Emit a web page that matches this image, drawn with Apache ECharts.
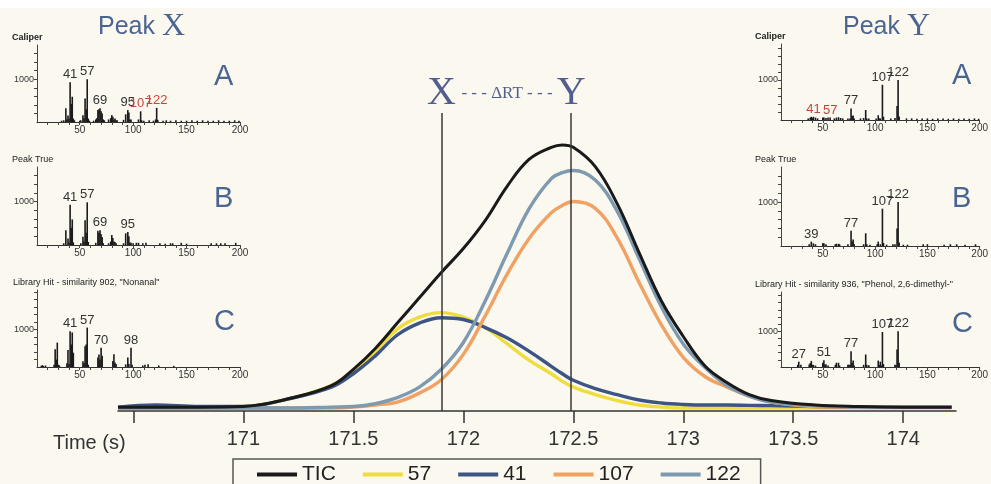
<!DOCTYPE html>
<html>
<head>
<meta charset="utf-8">
<script src="https://cdn.jsdelivr.net/npm/echarts@6/dist/echarts.min.js"></script>
<style>
  html, body { margin: 0; padding: 0; background: #fbf8f0; }
  #chart { width: 991px; height: 484px; }
</style>
</head>
<body>
<div id="chart"></div>
<script>
const NARROW = "'Liberation Sans Narrow', 'Liberation Sans', Arial, sans-serif";
const SANS = "'Liberation Sans', Arial, sans-serif";
const SERIF = "'Liberation Serif', 'DejaVu Serif', serif";
const BLUE = '#4b6592';
const RED = '#c9453a';

// chromatogram (time in s, intensity in % of plot height)
const time = [170.43, 170.6, 170.8, 171.0, 171.2, 171.4, 171.5, 171.6, 171.7, 171.8, 171.9, 172.0, 172.1, 172.2, 172.3, 172.4, 172.45, 172.5, 172.6, 172.7, 172.8, 172.9, 173.0, 173.1, 173.2, 173.3, 173.4, 173.6, 173.8, 174.0, 174.22];
const tic    = [1.3, 1.3, 1.3, 1.5, 4, 8.5, 14, 21, 29.5, 38, 46.5, 54.5, 64, 75.5, 84.5, 88.5, 89.3, 88.5, 82, 69.5, 53, 37, 25, 15, 9.5, 5.5, 3.5, 2, 1.5, 1.3, 1.3];
const ion57  = [1.3, 1.8, 1.3, 1.5, 4, 8.5, 13.5, 20, 27.5, 31.5, 33, 31.5, 28, 22.5, 17, 12.5, 10, 8, 5.5, 3.5, 2, 1.3, 1, 1, 1, 1, 1, 1, 1, 1, 1];
const ion41  = [1.3, 2, 1.5, 1.5, 4, 8, 12.5, 18.5, 25.5, 29.5, 31.3, 30.7, 28, 24.5, 20, 15, 12.5, 10.3, 7.5, 5.5, 3.7, 2.7, 2.2, 2, 2, 1.9, 1.8, 1.5, 1.3, 1.3, 1.3];
const ion107 = [1, 1, 1, 1, 1, 1, 1.3, 2, 3, 6, 10.5, 19, 32, 46, 58, 66.5, 69, 70.3, 68, 58, 43, 29, 18, 11.5, 8, 5, 3, 1.5, 1.3, 1.3, 1.3];
const ion122 = [1, 1, 1, 1, 1, 1.3, 1.5, 2.5, 4.5, 8, 14, 23, 37, 53, 68, 78, 80, 80.7, 77.5, 67, 51, 35, 22.5, 14.5, 8.5, 5, 3, 1.8, 1.3, 1.3, 1.3];
const seriesNames = ['TIC', '57', '41', '107', '122'];
const peakTimes = [171.9, 172.49];
const peakNames = ['X', 'Y'];
const timeTicks = [170.5, 171, 171.5, 172, 172.5, 173, 173.5, 174];
const timeLabels = [171, 171.5, 172, 172.5, 173, 173.5, 174];

// mass spectra [m/z, intensity]
const specXA = [[33,30],[35,40],[37,320],[38,60],[39,150],[40,80],[41,930],[42,420],[43,590],[44,80],[45,40],[50,30],[51,40],[53,160],[54,90],[55,550],[56,300],[57,1000],[58,80],[59,30],[63,30],[65,60],[66,90],[67,280],[68,300],[69,320],[70,250],[71,200],[72,60],[73,40],[77,60],[79,90],[80,160],[81,120],[82,60],[83,80],[84,40],[85,40],[91,50],[93,180],[95,280],[96,220],[97,60],[98,60],[105,60],[107,250],[108,40],[110,30],[115,40],[119,30],[121,60],[122,330],[123,50],[128,30],[131,40],[135,30],[140,40],[145,30],[150,30],[155,40],[160,30],[165,40],[170,30],[175,30],[180,40],[185,30],[190,30],[195,40],[199,30]];
const specXB = [[35,40],[37,340],[39,150],[40,60],[41,930],[42,400],[43,590],[44,60],[51,40],[53,190],[54,80],[55,570],[56,280],[57,985],[58,70],[65,50],[67,330],[68,280],[69,340],[70,250],[71,180],[72,40],[77,40],[79,80],[80,230],[81,160],[82,80],[83,70],[84,40],[91,40],[93,270],[95,300],[96,200],[97,60],[98,50],[100,40],[103,50],[105,50],[109,40],[112,50],[125,40],[130,30],[135,40],[137,40],[145,50],[150,30],[173,40],[178,40],[182,40],[186,40],[196,50]];
const specXC = [[14,30],[15,50],[16,30],[18,40],[26,60],[27,470],[28,200],[29,650],[30,60],[31,40],[38,100],[39,450],[40,80],[41,950],[42,600],[43,920],[44,380],[53,150],[54,100],[55,550],[56,600],[57,1050],[58,60],[67,250],[68,330],[69,200],[70,510],[71,300],[81,160],[82,340],[83,120],[84,80],[93,70],[95,250],[96,80],[98,510],[99,60],[109,40],[111,60],[114,70],[124,40],[138,30]];
const specYA = [[36,40],[38,60],[39,80],[40,50],[41,80],[43,60],[45,40],[50,60],[51,60],[53,50],[55,60],[57,60],[61,40],[63,60],[65,70],[67,50],[69,40],[74,40],[76,40],[77,290],[78,100],[79,110],[80,40],[86,40],[89,50],[91,250],[92,40],[94,40],[101,40],[103,120],[104,40],[105,40],[107,880],[108,80],[115,40],[119,50],[121,350],[122,1000],[123,90],[130,40],[135,40],[140,30],[145,40],[150,40],[155,30],[160,40],[165,40],[170,30],[175,40],[180,30],[185,40],[190,30],[195,40],[199,30]];
const specYB = [[37,40],[39,100],[41,60],[43,40],[50,60],[51,60],[53,40],[62,40],[63,50],[65,50],[66,40],[74,40],[77,350],[78,100],[79,150],[80,40],[89,40],[91,290],[92,40],[95,30],[102,40],[103,100],[105,40],[107,850],[108,70],[111,30],[117,40],[119,40],[121,400],[122,1000],[123,80],[127,30],[131,30],[146,40],[150,40],[166,30],[172,40],[178,40],[186,30],[196,40]];
const specYC = [[26,60],[27,150],[29,60],[37,70],[38,110],[39,170],[40,60],[41,60],[43,40],[50,120],[51,190],[52,60],[53,80],[55,40],[62,60],[63,120],[65,120],[66,40],[74,60],[75,60],[76,60],[77,440],[78,120],[79,180],[80,40],[89,60],[91,350],[92,60],[94,50],[103,180],[104,60],[105,150],[106,40],[107,980],[108,80],[119,60],[120,50],[121,490],[122,1000],[123,120]];

// labelled peaks [m/z, colour]
const labXA = [[41,'#333'],[57,'#333'],[69,'#333'],[95,'#333'],[107,RED],[122,RED]];
const labXB = [[41,'#333'],[57,'#333'],[69,'#333'],[95,'#333']];
const labXC = [[41,'#333'],[57,'#333'],[70,'#333'],[98,'#333']];
const labYA = [[41,RED],[57,RED],[77,'#333'],[107,'#333'],[122,'#333']];
const labYB = [[39,'#333'],[77,'#333'],[107,'#333'],[122,'#333']];
const labYC = [[27,'#333'],[51,'#333'],[77,'#333'],[107,'#333'],[122,'#333']];

const mzLabels = [50, 100, 150, 200];
const mzTicks = [20, 30, 40, 50, 60, 70, 80, 90, 100, 110, 120, 130, 140, 150, 160, 170, 180, 190, 200];
const intTicks = [200, 400, 600, 800, 1000, 1200, 1400, 1600, 1800, 2000];

const insets = [
  { spec: specXA, lab: labXA, title: 'Caliper', bold: true, letter: 'A', left: 37, top: 45, base: 122, ymax: 1800, tx: 7, letterX: 209 },
  { spec: specXB, lab: labXB, title: 'Peak True', bold: false, letter: 'B', left: 37, top: 167, base: 245, ymax: 1800, tx: 7, letterX: 209 },
  { spec: specXC, lab: labXC, title: 'Library Hit - similarity 902, "Nonanal"', bold: false, letter: 'C', left: 37, top: 290, base: 367, ymax: 2050, tx: 8, letterX: 209 },
  { spec: specYA, lab: labYA, title: 'Caliper', bold: true, letter: 'A', left: 781, top: 44, base: 120, ymax: 1900, tx: 750, letterX: 947 },
  { spec: specYB, lab: labYB, title: 'Peak True', bold: false, letter: 'B', left: 781, top: 167, base: 246, ymax: 1800, tx: 750, letterX: 947 },
  { spec: specYC, lab: labYC, title: 'Library Hit - similarity 936, "Phenol, 2,6-dimethyl-"', bold: false, letter: 'C', left: 781, top: 292, base: 367, ymax: 2100, tx: 750, letterX: 947 }
];

const chart = echarts.init(document.getElementById('chart'));

const grid = [{ left: 118, right: 35, top: 113, bottom: 73 }];
const xAxis = [{
  type: 'value', gridIndex: 0, min: 170.43, max: 174.24,
  axisLine: { show: true, onZero: false, lineStyle: { color: '#333', width: 1.5 } },
  axisTick: { show: true, customValues: timeTicks, length: 12, lineStyle: { color: '#333', width: 1.5 } },
  axisLabel: { customValues: timeLabels, fontSize: 20, margin: 18, color: '#333', fontFamily: NARROW },
  splitLine: { show: false }
}];
const yAxis = [{ type: 'value', gridIndex: 0, min: 0, max: 100, show: false }];

const colors = { 'TIC': '#1a1a1a', '57': '#f0dc3c', '41': '#3d5585', '107': '#f0a264', '122': '#7d9ab0' };
const values = { 'TIC': tic, '57': ion57, '41': ion41, '107': ion107, '122': ion122 };
const drawOrder = ['57', '41', '107', '122', 'TIC'];
const series = drawOrder.map(name => ({
  type: 'line', name, xAxisIndex: 0, yAxisIndex: 0,
  data: time.map((t, i) => [t, values[name][i]]),
  smooth: 0.4, symbol: 'none',
  lineStyle: { color: colors[name], width: name === 'TIC' ? 3 : 3.4 },
  itemStyle: { color: colors[name] },
  markLine: name === 'TIC' ? {
    silent: true, symbol: 'none',
    lineStyle: { color: '#3a3a3a', width: 1.5, type: 'solid' },
    label: { position: 'end', distance: 0, fontSize: 40, fontFamily: SERIF, color: '#525e8e' },
    data: peakTimes.map((t, i) => ({ xAxis: t, label: { formatter: peakNames[i] } }))
  } : undefined
}));

const peakTitle = letter => ({
  text: '{a|Peak }{b|' + letter + '}',
  textStyle: { rich: {
    a: { fontSize: 25, fontWeight: 'normal', fontFamily: SANS, color: BLUE },
    b: { fontSize: 32, fontWeight: 'normal', fontFamily: SERIF, color: BLUE }
  } }
});
const titles = [
  Object.assign(peakTitle('X'), { left: 93, top: 6 }),
  Object.assign(peakTitle('Y'), { left: 838, top: 6 }),
  { text: 'Time (s)', left: 48, top: 428, textStyle: { fontSize: 20, fontWeight: 'normal', fontFamily: NARROW, color: '#333' } }
];

insets.forEach((c, k) => {
  const gi = k + 1;
  grid.push({ left: c.left, width: c.left < 500 ? 203 : 199, top: c.top, height: c.base - c.top });
  xAxis.push({
    type: 'value', gridIndex: gi, min: 10, max: 200,
    axisLine: { show: true, onZero: false, lineStyle: { color: '#333', width: 1 } },
    axisTick: { show: true, customValues: mzTicks, length: 3, lineStyle: { color: '#444' } },
    axisLabel: { customValues: mzLabels, fontSize: 10, margin: 3, color: '#333', fontFamily: NARROW },
    splitLine: { show: false }
  });
  yAxis.push({
    type: 'value', gridIndex: gi, min: 0, max: c.ymax,
    axisLine: { show: true, lineStyle: { color: '#444', width: 1 } },
    axisTick: { show: true, customValues: intTicks.filter(v => v < c.ymax), length: 3, lineStyle: { color: '#444' } },
    axisLabel: { customValues: [1000], formatter: v => String(v), fontSize: 9, margin: 3, color: '#333', fontFamily: NARROW },
    splitLine: { show: false }
  });
  series.push({
    type: 'bar', name: 'ms' + k, xAxisIndex: gi, yAxisIndex: gi,
    barWidth: 1.6, itemStyle: { color: '#1a1a1a' },
    data: c.spec.map(([mz, v]) => {
      const l = c.lab.find(e => e[0] === mz);
      return l ? { value: [mz, v], label: { show: true, position: 'top', distance: 1, color: l[1], fontSize: 13, fontFamily: NARROW, formatter: p => p.value[0] } } : [mz, v];
    })
  });
  titles.push({ text: c.title, left: c.tx, top: c.top - 17, textStyle: { fontSize: 9, fontWeight: c.bold ? 'bold' : 'normal', fontFamily: NARROW, color: '#222' } });
  titles.push({ text: c.letter, left: c.letterX, top: c.top + 12, textStyle: { fontSize: 29, fontWeight: 'normal', fontFamily: SANS, color: BLUE } });
});

chart.setOption({
  animation: false,
  backgroundColor: '#fbf8f0',
  title: titles,
  grid, xAxis, yAxis, series,
  legend: {
    data: seriesNames, left: 233, top: 459,
    icon: 'rect', itemWidth: 40, itemHeight: 4, itemGap: 27, itemTextGap: 6,
    borderColor: '#555', borderWidth: 1.5, padding: [5, 20, 10, 24],
    textStyle: { fontSize: 21, fontFamily: NARROW, color: '#222' }
  },
  graphic: [
    { type: 'rect', shape: { x: 0, y: 0, width: 991, height: 8 }, style: { fill: '#ffffff' }, z: -1 },
    { type: 'text', x: 507, y: 94, style: { text: '- - - ΔRT - - -', font: '17px ' + SERIF, fill: '#525e8e', textAlign: 'center', textVerticalAlign: 'middle' } }
  ]
});
</script>
</body>
</html>
